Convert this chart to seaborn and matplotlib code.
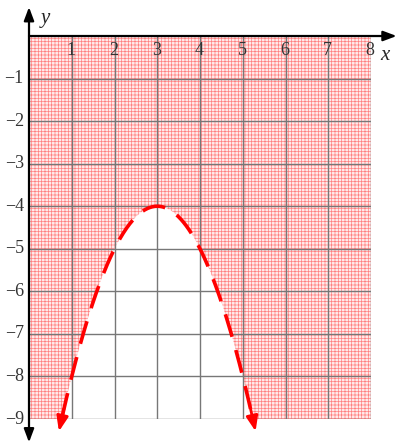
import numpy as np
import pandas as pd
import matplotlib
matplotlib.use("Agg")
import matplotlib.pyplot as plt
import seaborn as sns

# parabola y = a*(x - h)^2 + k, shaded above the curve
a, h, k = -1.0, 3.0, -4.0
x_ticks = [1, 2, 3, 4, 5, 6, 7, 8]
y_ticks = [-1, -2, -3, -4, -5, -6, -7, -8, -9]
x_range = [0.7, 5.3]

sns.set_style("white")
plt.rcParams["font.family"] = ["Liberation Serif", "DejaVu Serif"]
plt.rcParams["hatch.linewidth"] = 0.5
plt.rcParams["hatch.color"] = "#ff8080"

fig = plt.figure(figsize=(4, 4.44), dpi=100)
ax = fig.add_axes([0.0725, 0.0563, 0.855, 0.8626])
ax.set_xlim(0, 8)
ax.set_ylim(-9, 0)
ax.axis("off")

# shaded region
xs = np.linspace(0, 8, 400)
ys = a * (xs - h) ** 2 + k
ax.fill_between(xs, np.maximum(ys, -9), 0, facecolor="#ffeaea",
                hatch="+++++", edgecolor="#ff8080", linewidth=0, zorder=1)

# grid
for gx in x_ticks:
    ax.plot([gx, gx], [-9, 0], color="#777777", lw=1.0, zorder=2)
for gy in y_ticks:
    ax.plot([0, 8], [gy, gy], color="#777777", lw=1.0, zorder=2)

# axes with arrows
ax.annotate("", xy=(8.6, 0), xytext=(0, 0), annotation_clip=False,
            arrowprops=dict(arrowstyle="-|>,head_length=0.8,head_width=0.3",
                            color="black", lw=1.6, shrinkA=0, shrinkB=0), zorder=5)
ax.annotate("", xy=(0, 0.68), xytext=(0, -9.55), annotation_clip=False,
            arrowprops=dict(arrowstyle="<|-|>,head_length=0.8,head_width=0.3",
                            color="black", lw=1.6, shrinkA=0, shrinkB=0), zorder=5)
ax.text(0.38, 0.4, "y", fontsize=15, style="italic", ha="center", va="center")
ax.text(8.33, -0.45, "x", fontsize=15, style="italic", ha="center", va="center")

for t in x_ticks:
    ax.text(t - 0.02, -0.33, str(t), fontsize=13, color="#333333",
            ha="center", va="center", zorder=6)
for t in y_ticks:
    ax.text(-0.12, t, "\u2212" + str(-t), fontsize=13, color="#333333",
            ha="right", va="center", zorder=6)

# dashed parabola
cx = np.linspace(x_range[0] + 0.08, x_range[1] - 0.08, 300)
curve = pd.DataFrame({"x": cx, "y": a * (cx - h) ** 2 + k})
sns.lineplot(data=curve, x="x", y="y", ax=ax, color="red", lw=2.6,
             sort=False, zorder=7)
ax.lines[-1].set_dashes((6.5, 3.8))
ax.lines[-1].set_clip_on(False)

for x0, x1 in [(x_range[0] + 0.12, x_range[0]), (x_range[1] - 0.12, x_range[1])]:
    ax.annotate("", xy=(x1, a * (x1 - h) ** 2 + k), xytext=(x0, a * (x0 - h) ** 2 + k),
                annotation_clip=False,
                arrowprops=dict(arrowstyle="-|>,head_length=0.9,head_width=0.35",
                                color="red", lw=2.0, shrinkA=0, shrinkB=0), zorder=8)

fig.savefig("out.png", dpi=100)
